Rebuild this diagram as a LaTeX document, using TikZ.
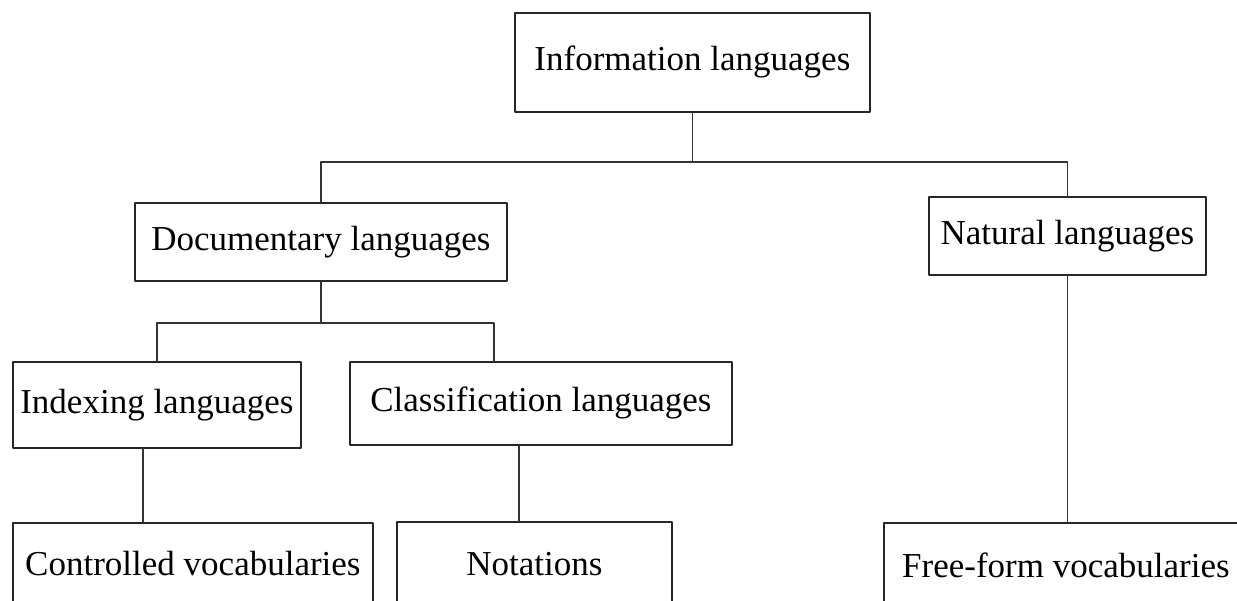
\documentclass[tikz,border=0pt]{standalone}
\usepackage{fontspec}
\setmainfont{Liberation Serif}
\begin{document}
\begin{tikzpicture}[x=1pt,y=-1pt,line join=round,line cap=round,
	box/.style={draw=black!85,line width=1.8pt,inner sep=0pt,anchor=north west,
		font=\fontsize{35}{40}\selectfont},
	link/.style={draw=black!80,line width=1.8pt}]
	\useasboundingbox (0,0) rectangle (1237,600);
	\clip (0,0) rectangle (1237,600);
	\path
	(514,12) node[box,minimum width=355pt,minimum height=99pt] (info) {Information languages}
	(134,202) node[box,minimum width=372pt,minimum height=78pt] (doc) {Documentary languages}
	(928,196) node[box,minimum width=277pt,minimum height=78pt] (nat) {Natural languages}
	(12,361) node[box,minimum width=288pt,minimum height=86pt] (idx) {Indexing languages}
	(349,361) node[box,minimum width=382pt,minimum height=83pt] (cls) {Classification languages}
	(12,522) node[box,minimum width=360pt,minimum height=82pt] (ctrl) {Controlled vocabularies}
	(396,521) node[box,minimum width=275pt,minimum height=84pt] (nota) {Notations}
	(883,522) node[box,minimum width=364pt,minimum height=84pt] (free) {Free-form vocabularies}
	;
	\draw[link] (info.south) -- ++(0,49) coordinate (fork1);
	\draw[link] (doc.north) |- (fork1) -| (nat.north);
	\draw[link] (doc.south) -- ++(0,41) coordinate (fork2);
	\draw[link] (idx.north) |- (fork2) -| ([xshift=-47pt]cls.north);
	\draw[link] ([xshift=-14pt]idx.south) -- ([xshift=-14pt]idx.south |- ctrl.north);
	\draw[link] ([xshift=-22pt]cls.south) -- ([xshift=-22pt]cls.south |- nota.north);
	\draw[link] (nat.south) -- (nat.south |- free.north);
\end{tikzpicture}
\end{document}
